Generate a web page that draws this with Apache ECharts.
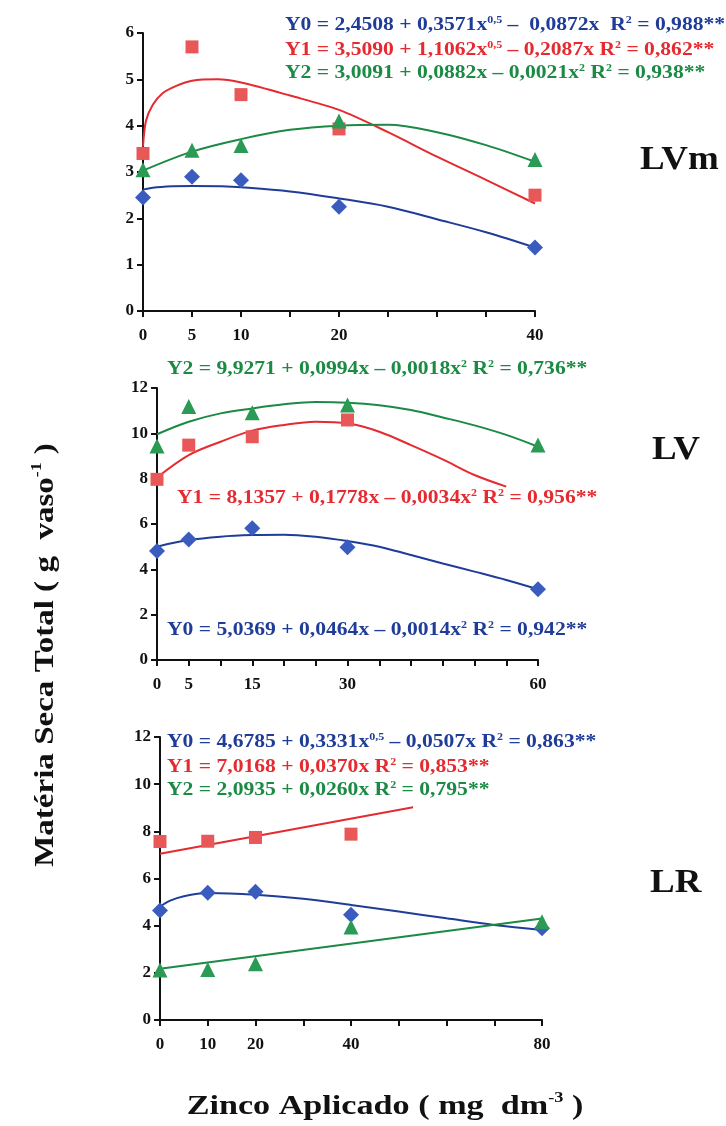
<!DOCTYPE html>
<html><head><meta charset="utf-8">
<script src="https://cdn.jsdelivr.net/npm/echarts@6/dist/echarts.min.js"></script>
<style>html,body{margin:0;padding:0;background:#fff}#c{width:726px;height:1126px}</style>
</head><body><div id="c"></div>
<script>
// ---- LVm panel ----
const lvmX = [0, 5, 10, 20, 40];
const lvmY0 = [2.45, 2.9, 2.82, 2.25, 1.37];
const lvmY1 = [3.4, 5.7, 4.67, 3.93, 2.5];
const lvmY2 = [3.05, 3.47, 3.57, 4.1, 3.27];
const lvmFitX0 = [0, 1, 3, 5, 8, 10, 15, 20, 25, 30, 35, 40];
const lvmFit0 = [2.62, 2.66, 2.69, 2.70, 2.69, 2.67, 2.58, 2.43, 2.25, 1.98, 1.70, 1.37];
const lvmFitX1 = [0, 0.3, 1, 2, 3.4, 5, 7.6, 10, 15, 20, 25, 30, 35, 40];
const lvmFit1 = [3.55, 4.1, 4.45, 4.7, 4.86, 4.97, 5.0, 4.93, 4.65, 4.34, 3.86, 3.33, 2.83, 2.32];
const lvmFitX2 = [0, 5, 10, 15, 20, 25, 30, 35, 40];
const lvmFit2 = [3.03, 3.44, 3.71, 3.91, 4.0, 4.02, 3.86, 3.58, 3.22];
const lvmTicks = [0, 5, 10, 20, 40];

// ---- LV panel ----
const lvX = [0, 5, 15, 30, 60];
const lvY0 = [4.81, 5.32, 5.81, 4.97, 3.12];
const lvX1 = [0, 5, 15, 30];
const lvY1 = [7.97, 9.48, 9.85, 10.59];
const lvY2 = [9.44, 11.18, 10.91, 11.25, 9.48];
const lvFitX = [0, 5, 10, 15, 20, 25, 30, 35, 40, 45, 50, 55, 60];
const lvFit0 = [5.0, 5.29, 5.44, 5.51, 5.53, 5.44, 5.25, 5.0, 4.63, 4.26, 3.9, 3.53, 3.12];
const lvFitX1 = [0, 5, 10, 15, 20, 25, 30, 35, 40, 45, 50, 55];
const lvFit1 = [8.05, 9.04, 9.63, 10.12, 10.37, 10.51, 10.44, 10.07, 9.48, 8.85, 8.16, 7.65];
const lvFit2 = [9.96, 10.51, 10.88, 11.1, 11.28, 11.38, 11.35, 11.24, 11.03, 10.7, 10.35, 9.93, 9.41];
const lvTicks = [0, 5, 15, 30, 60];

// ---- LR panel ----
const lrX = [0, 10, 20, 40, 80];
const lrY0 = [4.64, 5.40, 5.44, 4.46, 3.89];
const lrX1 = [0, 10, 20, 40];
const lrY1 = [7.57, 7.58, 7.74, 7.88];
const lrY2 = [2.12, 2.14, 2.38, 3.94, 4.17];
const lrFitX0 = [0, 2, 5, 10, 20, 30, 40, 50, 60, 70, 80];
const lrFit0 = [4.8, 5.05, 5.25, 5.38, 5.31, 5.14, 4.88, 4.6, 4.31, 4.03, 3.82];
const lrFitX1 = [0, 53];
const lrFit1 = [7.05, 9.02];
const lrFitX2 = [0, 80];
const lrFit2 = [2.17, 4.3];
const lrTicks = [0, 10, 20, 40, 80];

const BLUE = '#1f3c98', RED = '#e52a30', GREEN = '#1b8a44';
const BLUE_M = '#3a5cbf', RED_M = '#e85858', GREEN_M = '#2a9a55';
const FONT = '"Liberation Serif", "DejaVu Serif", serif';

const pairs = (xs, ys) => xs.map((x, i) => [x, ys[i]]);

const grids = [
  { left: 143, top: 33, width: 392, height: 278 },
  { left: 157, top: 388, width: 381, height: 272 },
  { left: 160, top: 737, width: 382, height: 283 }
];
const xCfg = [
  { max: 40, interval: 5, ticks: lvmTicks },
  { max: 60, interval: 5, ticks: lvTicks },
  { max: 80, interval: 10, ticks: lrTicks }
];
const yCfg = [
  { max: 6, interval: 1 },
  { max: 12, interval: 2 },
  { max: 12, interval: 2 }
];

const axisLine = { show: true, onZero: false, lineStyle: { color: '#111', width: 2 } };
const axisTick = { show: true, length: 6, lineStyle: { color: '#111', width: 2 } };
const labelStyle = { color: '#111', fontFamily: FONT, fontWeight: 'bold', fontSize: 17 };

const xAxis = xCfg.map((c, i) => ({
  type: 'value', gridIndex: i, min: 0, max: c.max, interval: c.interval,
  axisLine, axisTick, splitLine: { show: false },
  axisLabel: Object.assign({ margin: 16, formatter: v => c.ticks.indexOf(v) >= 0 ? String(v) : '', showMinLabel: true, showMaxLabel: true }, labelStyle)
}));
const yAxis = yCfg.map((c, i) => ({
  type: 'value', gridIndex: i, min: 0, max: c.max, interval: c.interval,
  axisLine, axisTick, splitLine: { show: false },
  axisLabel: Object.assign({ margin: 9 }, labelStyle)
}));

function scat(i, xs, ys, sym, size, color) {
  return { type: 'scatter', xAxisIndex: i, yAxisIndex: i, data: pairs(xs, ys), symbol: sym, symbolSize: size,
    itemStyle: { color: color, opacity: 1 }, z: 5, silent: true };
}
function fit(i, xs, ys, color, smooth) {
  return { type: 'line', xAxisIndex: i, yAxisIndex: i, data: pairs(xs, ys), smooth: smooth === undefined ? 0.35 : smooth,
    showSymbol: false, lineStyle: { color: color, width: 2 }, z: 3, silent: true };
}

const series = [
  fit(0, lvmFitX0, lvmFit0, BLUE), fit(0, lvmFitX1, lvmFit1, RED, 0.3), fit(0, lvmFitX2, lvmFit2, GREEN),
  scat(0, lvmX, lvmY0, 'diamond', 16, BLUE_M), scat(0, lvmX, lvmY1, 'rect', 13, RED_M), scat(0, lvmX, lvmY2, 'triangle', 15, GREEN_M),
  fit(1, lvFitX, lvFit0, BLUE), fit(1, lvFitX1, lvFit1, RED), fit(1, lvFitX, lvFit2, GREEN),
  scat(1, lvX, lvY0, 'diamond', 16, BLUE_M), scat(1, lvX1, lvY1, 'rect', 13, RED_M), scat(1, lvX, lvY2, 'triangle', 15, GREEN_M),
  fit(2, lrFitX0, lrFit0, BLUE), fit(2, lrFitX1, lrFit1, RED, false), fit(2, lrFitX2, lrFit2, GREEN, false),
  scat(2, lrX, lrY0, 'diamond', 16, BLUE_M), scat(2, lrX1, lrY1, 'rect', 13, RED_M), scat(2, lrX, lrY2, 'triangle', 15, GREEN_M)
];

function eqRich(color) {
  return {
    n: { fontFamily: FONT, fontWeight: 'bold', fontSize: 18, color: color, lineHeight: 20 },
    s: { fontFamily: FONT, fontWeight: 'bold', fontSize: 10, color: color, lineHeight: 20, verticalAlign: 'top' }
  };
}
function eq(x, y, text, color) {
  return { type: 'text', x: x, y: y, scaleX: 1.2, z: 10,
    style: { text: text, rich: eqRich(color), fill: color, align: 'left', verticalAlign: 'middle', font: 'bold 18px ' + FONT } };
}
function panelLabel(x, y, text) {
  return { type: 'text', x: x, y: y, scaleX: 1.12, z: 10,
    style: { text: text, font: 'bold 33px ' + FONT, fill: '#111', align: 'left', verticalAlign: 'middle' } };
}
const titleRich = {
  t: { font: 'bold 28px ' + FONT, fill: '#111', lineHeight: 32 },
  s: { font: 'bold 15px ' + FONT, fill: '#111', lineHeight: 32, verticalAlign: 'top' }
};
const graphic = [
  eq(285, 25, '{n|Y0 = 2,4508 + 0,3571x}{s|0,5}{n| –  0,0872x  R}{s|2}{n| = 0,988**}', BLUE),
  eq(285, 50, '{n|Y1 = 3,5090 + 1,1062x}{s|0,5}{n| – 0,2087x R}{s|2}{n| = 0,862**}', RED),
  eq(285, 73, '{n|Y2 = 3,0091 + 0,0882x – 0,0021x}{s|2}{n| R}{s|2}{n| = 0,938**}', GREEN),
  eq(167, 369, '{n|Y2 = 9,9271 + 0,0994x – 0,0018x}{s|2}{n| R}{s|2}{n| = 0,736**}', GREEN),
  eq(177, 498, '{n|Y1 = 8,1357 + 0,1778x – 0,0034x}{s|2}{n| R}{s|2}{n| = 0,956**}', RED),
  eq(167, 630, '{n|Y0 = 5,0369 + 0,0464x – 0,0014x}{s|2}{n| R}{s|2}{n| = 0,942**}', BLUE),
  eq(167, 742, '{n|Y0 = 4,6785 + 0,3331x}{s|0,5}{n| – 0,0507x R}{s|2}{n| = 0,863**}', BLUE),
  eq(167, 767, '{n|Y1 = 7,0168 + 0,0370x R}{s|2}{n| = 0,853**}', RED),
  eq(167, 790, '{n|Y2 = 2,0935 + 0,0260x R}{s|2}{n| = 0,795**}', GREEN),
  panelLabel(640, 160, 'LVm'),
  panelLabel(652, 450, 'LV'),
  panelLabel(650, 883, 'LR'),
  { type: 'text', x: 46, y: 655, rotation: Math.PI / 2, scaleX: 1.18, z: 10,
    style: { text: '{t|Matéria Seca Total ( g  vaso}{s|-1}{t| )}', align: 'center', verticalAlign: 'middle', rich: titleRich } },
  { type: 'text', x: 385, y: 1107, scaleX: 1.22, z: 10,
    style: { text: '{t|Zinco Aplicado ( mg  dm}{s|-3}{t| )}', align: 'center', verticalAlign: 'middle', rich: titleRich } }
];

const chart = echarts.init(document.getElementById('c'), null, { renderer: 'canvas' });
chart.setOption({
  animation: false,
  backgroundColor: '#fff',
  grid: grids,
  xAxis: xAxis,
  yAxis: yAxis,
  series: series,
  graphic: graphic
});
</script></body></html>
